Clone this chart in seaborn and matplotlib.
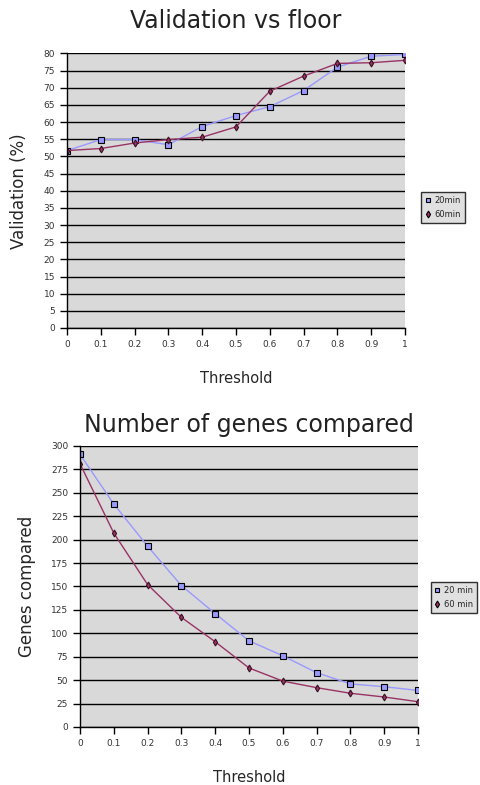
import pandas as pd
import numpy as np
import matplotlib
matplotlib.use('Agg')
import matplotlib.pyplot as plt
import seaborn as sns

# Data
threshold = [0.0, 0.1, 0.2, 0.3, 0.4, 0.5, 0.6, 0.7, 0.8, 0.9, 1.0]
valid_20 = [51.7, 54.9, 54.9, 53.4, 58.7, 61.9, 64.5, 69.2, 76.0, 79.2, 79.7]
valid_60 = [51.7, 52.3, 53.9, 54.9, 55.6, 58.6, 69.0, 73.4, 77.1, 77.3, 78.0]
genes_20 = [291, 238, 193, 151, 121, 92, 76, 58, 46, 43, 39]
genes_60 = [281, 207, 152, 117, 91, 63, 49, 42, 36, 32, 27]

sns.set_style('white', {'axes.facecolor': '#d9d9d9'})

blue = '#9999ff'
maroon = '#993366'

fig = plt.figure(figsize=(4.81, 7.85), dpi=100)
ax1 = fig.add_axes([0.1393, 0.5822, 0.7027, 0.3497])
ax2 = fig.add_axes([0.1663, 0.0739, 0.7027, 0.3580])


def draw(ax, y20, y60, labels, ymax, ystep, title, ylabel, leg_pos, tpad):
    df = pd.DataFrame({'x': threshold * 2,
                       'y': list(y20) + list(y60),
                       's': [labels[0]] * 11 + [labels[1]] * 11})
    sns.lineplot(data=df, x='x', y='y', hue='s', style='s',
                 palette=[blue, maroon], markers=['s', 'd'], dashes=False,
                 markersize=5, markeredgecolor='black', markeredgewidth=0.8,
                 linewidth=1, ax=ax)
    # the 60 min markers are small and dark
    ax.lines[1].set_markersize(3.5)
    ax.lines[1].set_markeredgecolor('#3a1020')
    ax.set_xlim(0, 1)
    ax.set_ylim(0, ymax)
    ax.set_xticks(threshold)
    ax.set_xticklabels(['0'] + [f'{v:g}' for v in threshold[1:-1]] + ['1'])
    ax.set_yticks(np.arange(0, ymax + 1, ystep))
    ax.yaxis.grid(True, color='black', linewidth=1)
    ax.set_axisbelow(True)
    for s in ['top', 'right']:
        ax.spines[s].set_visible(False)
    for s in ['left', 'bottom']:
        ax.spines[s].set_color('black')
        ax.spines[s].set_linewidth(1)
    ax.tick_params(axis='both', which='both', direction='out', length=5,
                   width=1, color='black', labelsize=6.5, labelcolor='#333333',
                   bottom=True, left=True)
    ax.set_title(title, fontsize=17, pad=tpad, color='#222222')
    ax.set_xlabel('Threshold', fontsize=10.5, labelpad=16)
    ax.set_ylabel(ylabel, fontsize=12, labelpad=11)
    leg = ax.legend(loc='center left', bbox_to_anchor=leg_pos, fontsize=6,
                    frameon=True, fancybox=False, edgecolor='black',
                    handlelength=0.6, handletextpad=0.5, borderpad=0.5,
                    labelspacing=0.6, markerscale=0.7)
    for line in leg.get_lines():
        line.set_linestyle('none')
    leg.get_frame().set_linewidth(1)


draw(ax1, valid_20, valid_60, ['20min', '60min'], 80, 5,
     'Validation vs floor', 'Validation (%)', (1.035, 0.44), 18)
draw(ax2, genes_20, genes_60, ['20 min', '60 min'], 300, 25,
     'Number of genes compared', 'Genes compared', (1.025, 0.46), 10)

plt.savefig('out.png', dpi=100)
